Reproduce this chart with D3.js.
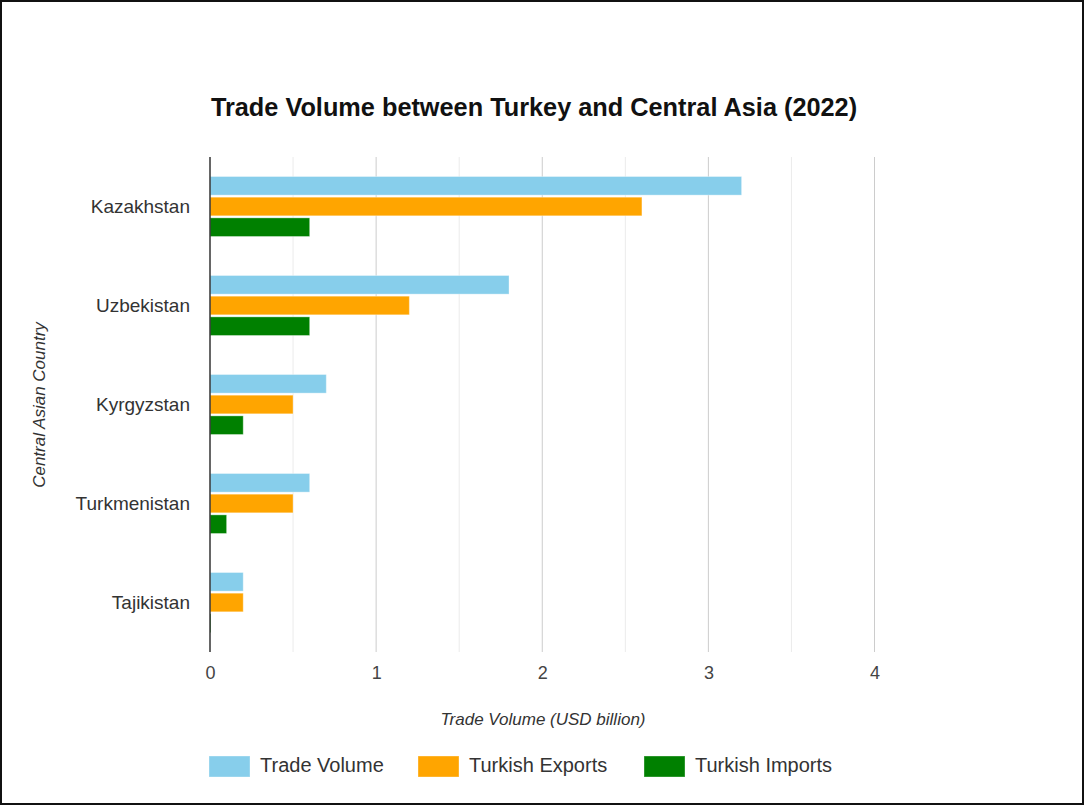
<!DOCTYPE html>
<html>
<head>
<meta charset="utf-8">
<script src="https://cdn.jsdelivr.net/npm/d3@7"></script>
<style>
  html, body { margin: 0; padding: 0; background: #fff; }
  svg { display: block; }
</style>
</head>
<body>
<svg id="chart" width="1085" height="806"></svg>
<script>
// Trade between Turkey and the Central Asian republics, 2022 (USD billion)
const countries = ["Kazakhstan", "Uzbekistan", "Kyrgyzstan", "Turkmenistan", "Tajikistan"];
const seriesNames = ["Trade Volume", "Turkish Exports", "Turkish Imports"];
const tradeVolume = [3.2, 1.8, 0.7, 0.6, 0.2];
const turkishExports = [2.6, 1.2, 0.5, 0.5, 0.2];
const turkishImports = [0.6, 0.6, 0.2, 0.1, 0.005];
const seriesColors = ["#87CEEB", "#FFA500", "#008000"];
const xTicks = [0, 1, 2, 3, 4];

const values = [tradeVolume, turkishExports, turkishImports];
const rows = countries.map((c, i) => ({
  country: c,
  bars: seriesNames.map((s, j) => ({ series: s, value: values[j][i] }))
}));

const svg = d3.select("#chart");
const W = 1085, H = 806;
const labelFont = "'Liberation Sans', Arial, sans-serif";

// outer frame
svg.append("rect")
  .attr("x", 1).attr("y", 1)
  .attr("width", W - 3).attr("height", H - 3)
  .attr("fill", "#fff")
  .attr("stroke", "#111").attr("stroke-width", 2);

const plot = { left: 210, right: 874.5, top: 157, bottom: 652 };

const x = d3.scaleLinear().domain([0, 4]).range([plot.left, plot.right]);
const y = d3.scaleBand().domain(countries)
  .range([plot.top, plot.bottom]).paddingInner(0.394).paddingOuter(0.197);
const ySub = d3.scaleBand().domain(seriesNames)
  .range([0, y.bandwidth()]).paddingInner(0.1).paddingOuter(0);
const color = d3.scaleOrdinal().domain(seriesNames).range(seriesColors);

// gridlines: minor at half steps, major at whole units
const minor = d3.range(0.5, 4, 1);
svg.append("g").selectAll("line").data(minor).join("line")
  .attr("x1", d => x(d)).attr("x2", d => x(d))
  .attr("y1", plot.top).attr("y2", plot.bottom)
  .attr("stroke", "#ebebeb").attr("stroke-width", 1);
svg.append("g").selectAll("line").data(xTicks.filter(d => d > 0)).join("line")
  .attr("x1", d => x(d)).attr("x2", d => x(d))
  .attr("y1", plot.top).attr("y2", plot.bottom)
  .attr("stroke", "#cccccc").attr("stroke-width", 1);

// bars
const groups = svg.append("g").selectAll("g").data(rows).join("g")
  .attr("transform", d => `translate(0,${y(d.country)})`);
groups.selectAll("rect").data(d => d.bars).join("rect")
  .attr("x", x(0))
  .attr("y", d => ySub(d.series))
  .attr("width", d => Math.max(1, x(d.value) - x(0)))
  .attr("height", ySub.bandwidth())
  .attr("fill", d => color(d.series))
  .attr("stroke", "#ffffff").attr("stroke-opacity", 0.35).attr("stroke-width", 1);

// baseline at zero
svg.append("line")
  .attr("x1", x(0)).attr("x2", x(0))
  .attr("y1", plot.top).attr("y2", plot.bottom)
  .attr("stroke", "#333").attr("stroke-width", 1.5);

// x axis tick labels
const xAxis = d3.axisBottom(x).tickValues(xTicks).tickSize(0).tickPadding(0).tickFormat(d3.format("d"));
const gx = svg.append("g").attr("transform", `translate(0,${plot.bottom + 14})`).call(xAxis);
gx.select(".domain").remove();
gx.selectAll("text")
  .attr("font-family", labelFont).attr("font-size", 18).attr("fill", "#444")
  .attr("dy", "0.71em");

// y axis category labels
const yAxis = d3.axisLeft(y).tickSize(0).tickPadding(20);
const gy = svg.append("g").attr("transform", `translate(${plot.left},0)`).call(yAxis);
gy.select(".domain").remove();
gy.selectAll("text")
  .attr("font-family", labelFont).attr("font-size", 19).attr("fill", "#333");

// title
svg.append("text")
  .attr("x", 534).attr("y", 116)
  .attr("text-anchor", "middle")
  .attr("font-family", labelFont)
  .attr("font-weight", "bold").attr("font-size", 25.3).attr("fill", "#111")
  .text("Trade Volume between Turkey and Central Asia (2022)");

// axis titles
svg.append("text")
  .attr("x", 543).attr("y", 725)
  .attr("text-anchor", "middle")
  .attr("font-family", labelFont).attr("font-style", "italic")
  .attr("font-size", 17).attr("fill", "#333")
  .text("Trade Volume (USD billion)");
svg.append("text")
  .attr("transform", "translate(45,405) rotate(-90)")
  .attr("text-anchor", "middle")
  .attr("font-family", labelFont).attr("font-style", "italic")
  .attr("font-size", 17).attr("fill", "#333")
  .text("Central Asian Country");

// legend
const legendX = [209, 418, 644];
const legend = svg.append("g").selectAll("g").data(seriesNames).join("g")
  .attr("transform", (d, i) => `translate(${legendX[i]},756)`);
legend.append("rect")
  .attr("width", 41).attr("height", 21)
  .attr("fill", d => color(d))
  .attr("stroke", "#ffffff").attr("stroke-opacity", 0.35);
legend.append("text")
  .attr("x", 51).attr("y", 16)
  .attr("font-family", labelFont).attr("font-size", 20).attr("fill", "#333")
  .text(d => d);
</script>
</body>
</html>
